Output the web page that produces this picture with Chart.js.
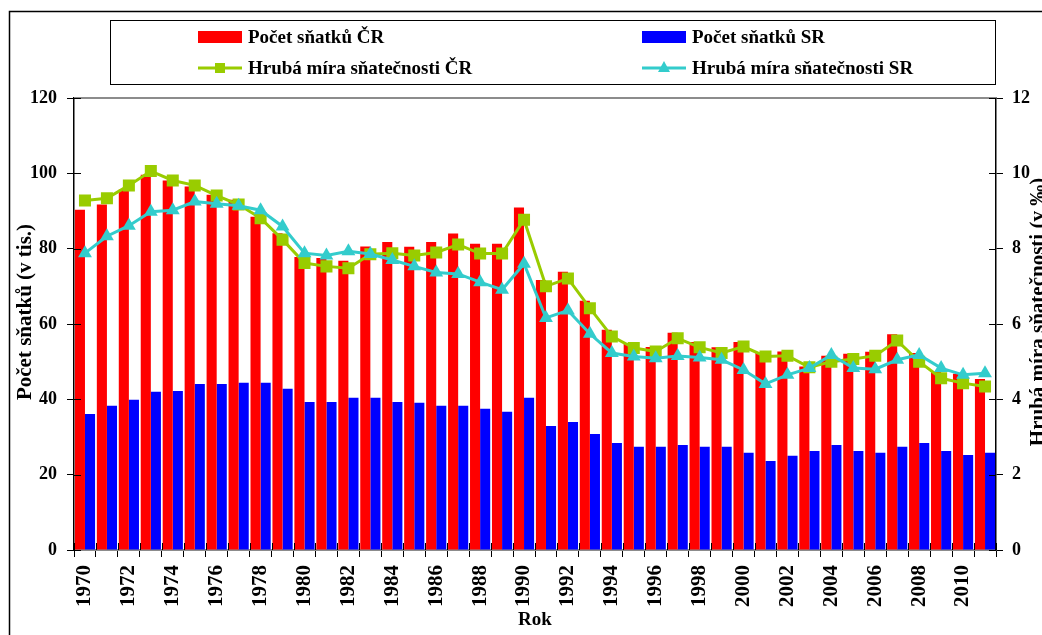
<!DOCTYPE html>
<html><head><meta charset="utf-8">
<script src="https://cdn.jsdelivr.net/npm/chart.js@4.4.0/dist/chart.umd.min.js"></script>
<style>html,body{margin:0;padding:0;background:#fff;overflow:hidden}canvas{display:block}</style>
</head><body>
<canvas id="c" width="1042" height="635"></canvas>
<script>
const years = [1970,1971,1972,1973,1974,1975,1976,1977,1978,1979,1980,1981,1982,1983,1984,1985,1986,1987,1988,1989,1990,1991,1992,1993,1994,1995,1996,1997,1998,1999,2000,2001,2002,2003,2004,2005,2006,2007,2008,2009,2010,2011];
const marriagesCR = [90.3,91.7,95.7,99.6,98.1,96.5,94.3,93.0,88.5,84.1,77.8,77.5,76.8,80.6,81.8,80.5,81.8,84.0,81.3,81.3,90.9,71.7,73.9,66.2,58.5,54.9,53.9,57.7,55.2,53.8,55.2,52.4,52.7,48.7,51.6,52.1,52.6,57.3,52.3,47.3,46.8,45.4];
const marriagesSR = [36.1,38.3,39.9,42.0,42.2,44.1,44.1,44.4,44.4,42.8,39.3,39.3,40.4,40.4,39.3,39.1,38.3,38.3,37.5,36.7,40.4,32.9,34.0,30.8,28.4,27.4,27.4,27.9,27.4,27.4,25.8,23.6,25.0,26.3,27.9,26.3,25.8,27.4,28.4,26.3,25.2,25.8];
const rateCR = [9.28,9.34,9.68,10.06,9.81,9.68,9.41,9.17,8.81,8.24,7.62,7.53,7.48,7.85,7.88,7.82,7.90,8.11,7.87,7.87,8.77,7.00,7.21,6.42,5.67,5.36,5.27,5.62,5.38,5.23,5.40,5.14,5.16,4.85,5.00,5.07,5.16,5.56,5.00,4.56,4.43,4.34];
const rateSR = [7.88,8.33,8.61,8.98,9.02,9.25,9.19,9.14,9.02,8.59,7.88,7.82,7.93,7.86,7.70,7.53,7.37,7.33,7.11,6.91,7.60,6.16,6.36,5.74,5.23,5.14,5.09,5.15,5.11,5.05,4.78,4.41,4.65,4.83,5.18,4.83,4.80,5.05,5.18,4.83,4.65,4.69];
const leftTicks = [0,20,40,60,80,100,120];
const rightTicks = [0,2,4,6,8,10,12];
const labels = ['Počet sňatků ČR','Počet sňatků SR','Hrubá míra sňatečnosti ČR','Hrubá míra sňatečnosti SR'];
const leftTitle = 'Počet sňatků (v tis.)';
const rightTitle = 'Hrubá míra sňatečnosti (v ‰)';
const xTitle = 'Rok';

const SERIF = '"Liberation Serif","Times New Roman",serif';
const RED='#FF0000', BLUE='#0000FF', GREEN='#99CC00', CYAN='#33CCCC';

function seg(ctx,x1,y1,x2,y2){ctx.beginPath();ctx.moveTo(x1,y1);ctx.lineTo(x2,y2);ctx.stroke();}

const decor = {
  id:'decor',
  beforeDraw(chart){const c=chart.ctx;c.save();c.fillStyle='#fff';c.fillRect(0,0,chart.width,chart.height);c.restore();},
  afterDraw(chart){
    const ctx = chart.ctx, a = chart.chartArea, yl = chart.scales.y, yr = chart.scales.y2;
    ctx.save();
    // outer frame
    ctx.strokeStyle='#000'; ctx.lineWidth=1.5; ctx.strokeRect(9.5,11.5,1300,900);
    // top border of plot
    ctx.strokeStyle='#8c8c8c'; ctx.lineWidth=2; seg(ctx,a.left,a.top,a.right,a.top);
    // inner tick halves
    ctx.strokeStyle='#000'; ctx.lineWidth=1;
    leftTicks.forEach(v=>{const y=Math.round(yl.getPixelForValue(v))+0.5; seg(ctx,a.left,y,a.left+7,y);});
    rightTicks.forEach(v=>{const y=Math.round(yr.getPixelForValue(v))+0.5; seg(ctx,a.right-7,y,a.right,y);});
    const cw = (a.right-a.left)/years.length;
    for(let i=0;i<=years.length;i++){const x=Math.round(a.left+i*cw)+0.5; seg(ctx,x,a.bottom-7,x,a.bottom);}
    // axis titles
    ctx.fillStyle='#000'; ctx.font='bold 21px '+SERIF; ctx.textAlign='center'; ctx.textBaseline='alphabetic';
    ctx.save(); ctx.translate(31,312); ctx.rotate(-Math.PI/2); ctx.fillText(leftTitle,0,0); ctx.restore();
    ctx.save(); ctx.translate(1044,312); ctx.rotate(-Math.PI/2); ctx.fillText(rightTitle,0,0); ctx.restore();
    // legend
    ctx.strokeStyle='#000'; ctx.lineWidth=1; ctx.strokeRect(110.5,20.5,885,64);
    const ds = chart.data.datasets;
    const pos = [[198,37],[642,37],[198,68],[642,68]];
    ctx.font='bold 19px '+SERIF; ctx.textAlign='left'; ctx.textBaseline='middle';
    ds.forEach((d,i)=>{
      const [x,y]=pos[i];
      if(d.type==='bar'){
        ctx.fillStyle=d.backgroundColor; ctx.fillRect(x,y-6,44,12);
      } else {
        ctx.strokeStyle=d.borderColor; ctx.lineWidth=3; seg(ctx,x,y,x+44,y);
        ctx.fillStyle=d.borderColor;
        if(d.pointStyle==='rect'){ctx.fillRect(x+17,y-5,10,10);}
        else {ctx.beginPath();ctx.moveTo(x+22,y-7);ctx.lineTo(x+28,y+4);ctx.lineTo(x+16,y+4);ctx.closePath();ctx.fill();}
      }
      ctx.fillStyle='#000'; ctx.fillText(d.label,x+50,y+1);
    });
    ctx.restore();
  }
};

new Chart(document.getElementById('c'),{
  data:{
    labels: years,
    datasets:[
      {type:'bar',label:labels[0],data:marriagesCR,backgroundColor:RED,yAxisID:'y',order:2,categoryPercentage:0.92,barPercentage:1.0},
      {type:'bar',label:labels[1],data:marriagesSR,backgroundColor:BLUE,yAxisID:'y',order:3,categoryPercentage:0.92,barPercentage:1.0},
      {type:'line',label:labels[2],data:rateCR,borderColor:GREEN,backgroundColor:GREEN,borderWidth:3,pointStyle:'rect',pointRadius:8.5,pointBorderWidth:0,pointBackgroundColor:GREEN,yAxisID:'y2',order:1,tension:0},
      {type:'line',label:labels[3],data:rateSR,borderColor:CYAN,backgroundColor:CYAN,borderWidth:3,pointStyle:'triangle',pointRadius:8,pointBorderWidth:0,pointBackgroundColor:CYAN,yAxisID:'y2',order:0,tension:0}
    ]
  },
  options:{
    responsive:false, animation:false,
    layout:{padding:{top:98,left:0,right:0,bottom:0}},
    plugins:{legend:{display:false},tooltip:{enabled:false}},
    scales:{
      x:{
        offset:true,
        grid:{display:true,drawOnChartArea:false,offset:true,tickLength:7,color:'#000',lineWidth:1},
        border:{display:true,color:'#8c8c8c',width:2},
        ticks:{autoSkip:false,maxRotation:90,minRotation:90,padding:8,color:'#000',font:{family:SERIF,size:21,weight:'bold'},
          callback:(v,i)=> i%2===0 ? String(years[i]) : ''},
        title:{display:true,text:xTitle,color:'#000',font:{family:SERIF,size:19,weight:'bold'},padding:{top:0,bottom:4}},
        afterFit:s=>{s.height=85;}
      },
      y:{
        position:'left',min:0,max:120,
        afterBuildTicks:s=>{s.ticks=leftTicks.map(v=>({value:v}));},
        grid:{display:true,drawOnChartArea:false,tickLength:7,color:'#000'},
        border:{display:true,color:'#000',width:1.5},
        ticks:{padding:10,color:'#000',font:{family:SERIF,size:18,weight:'bold'}},
        afterFit:s=>{s.width=74;}
      },
      y2:{
        position:'right',min:0,max:12,
        afterBuildTicks:s=>{s.ticks=rightTicks.map(v=>({value:v}));},
        grid:{display:true,drawOnChartArea:false,tickLength:7,color:'#000'},
        border:{display:true,color:'#000',width:1.5},
        ticks:{padding:9,color:'#000',font:{family:SERIF,size:18,weight:'bold'}},
        afterFit:s=>{s.width=46;}
      }
    }
  },
  plugins:[decor]
});
</script>
</body></html>
